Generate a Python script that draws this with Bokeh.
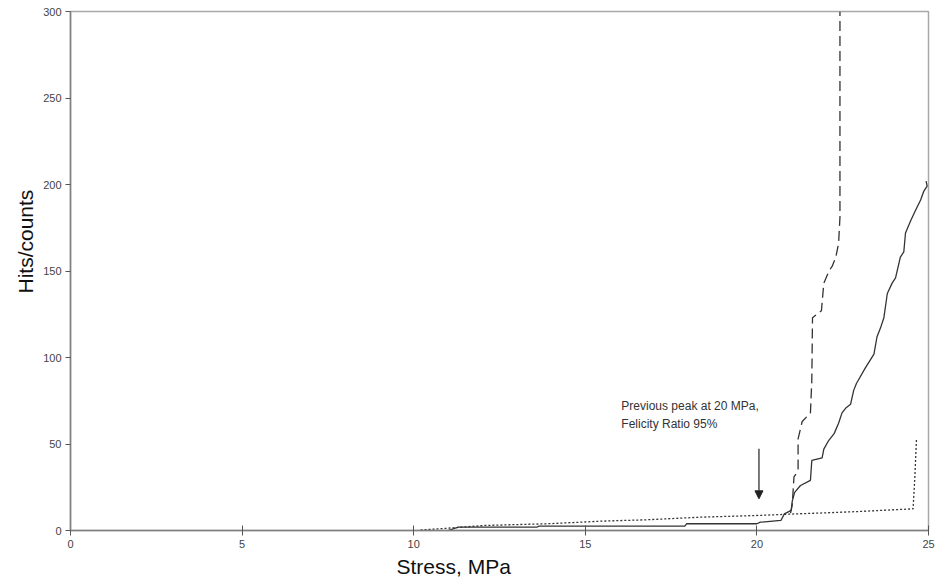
from bokeh.plotting import figure
from bokeh.models import Range1d, Label, Arrow, NormalHead, Title
from bokeh.embed import file_html
from bokeh.resources import INLINE

# Solid curve
solid_x = [11.0, 11.3, 13.6, 13.65, 17.9, 17.95, 20.0, 20.1, 20.7, 20.8, 21.0, 21.03, 21.1, 21.27,
           21.56, 21.6, 21.9, 21.95, 22.09, 22.25, 22.38, 22.48, 22.6, 22.73, 22.82, 22.9, 23.16,
           23.41, 23.5, 23.6, 23.7, 23.8, 23.94, 24.04, 24.18, 24.28, 24.33, 24.48, 24.62, 24.77,
           24.86, 24.96, 24.93]
solid_y = [0, 2, 2, 2.5, 2.5, 3.9, 3.9, 4.8, 5.8, 9.6, 11.6, 17, 22, 26,
           29, 40.5, 42, 47, 52, 56, 62, 68, 71, 73, 81, 85, 94,
           102, 112, 117, 123, 137, 143, 146, 158, 161, 172, 179, 185, 191,
           196, 199, 202]

# Dashed curve
dash_x = [20.98, 21.03, 21.08, 21.15, 21.2, 21.2, 21.32, 21.56, 21.6, 21.62, 21.88, 21.95, 22.1,
          22.2, 22.3, 22.38, 22.42, 22.42]
dash_y = [10, 15, 31, 33, 35, 53, 63, 68, 87, 123, 127, 143, 150,
          153, 158, 166, 181, 300]

# Dotted curve
dot_x = [10.2, 10.97, 12.04, 13.9, 14.86, 15.45, 16.8, 18.36, 20.05, 21.0, 22.0, 23.0, 24.0, 24.55, 24.6, 24.65]
dot_y = [0.3, 1.3, 2.9, 3.9, 4.8, 5.4, 6.2, 7.7, 8.7, 9.5, 10.2, 11.0, 12.0, 12.5, 30, 53]

x_ticks = [0, 5, 10, 15, 20, 25]
y_ticks = [0, 50, 100, 150, 200, 250, 300]

x_title = "Stress, MPa"
y_title = "Hits/counts"
note_lines = ["Previous peak at 20 MPa,", "Felicity  Ratio 95%"]
arrow_x = 20.06
arrow_top = 47.2
arrow_tip = 18.3

p = figure(width=935, height=584, output_backend="svg", toolbar_location=None,
           x_range=Range1d(0, 25), y_range=Range1d(0, 300),
           min_border_left=70, min_border_right=7, min_border_top=11, min_border_bottom=54)
p.background_fill_color = "white"
p.border_fill_color = "white"
p.outline_line_color = "#a8a8a8"
p.outline_line_width = 1.5
p.grid.visible = False

curve_color = "#333333"
p.line(solid_x, solid_y, line_color=curve_color, line_width=1.3)
p.line(dash_x, dash_y, line_color=curve_color, line_width=1.3, line_dash="10 5")
p.line(dot_x, dot_y, line_color=curve_color, line_width=1.3, line_dash="2 2")

axis_color = "#808080"
for ax in (p.xaxis[0], p.yaxis[0]):
    ax.axis_line_color = axis_color
    ax.axis_line_width = 1.5
    ax.major_tick_line_color = "#555555"
    ax.minor_tick_line_color = "#555555"
    ax.major_label_text_font = "Liberation Sans"
    ax.major_label_text_font_size = "11px"
    ax.major_label_text_color = "#444444"

p.xaxis.ticker = x_ticks
p.xaxis[0].ticker.num_minor_ticks = 5
p.xaxis.major_tick_in = 5
p.xaxis.major_tick_out = 5
p.xaxis.minor_tick_in = 2
p.xaxis.minor_tick_out = 0
p.xaxis.major_label_standoff = 4

p.yaxis.ticker = y_ticks
p.yaxis[0].ticker.num_minor_ticks = 5
p.yaxis.major_tick_in = 0
p.yaxis.major_tick_out = 5
p.yaxis.minor_tick_in = 3
p.yaxis.minor_tick_out = 0
p.yaxis.major_label_standoff = 4

# Axis titles as offset titles
p.add_layout(Title(text=x_title, text_font="Liberation Sans", text_font_size="21px",
                   text_font_style="normal", text_color="#111111", align="left",
                   offset=326, standoff=4), "below")
p.add_layout(Title(text=y_title, text_font="Liberation Sans", text_font_size="21px",
                   text_font_style="normal", text_color="#111111", align="left",
                   offset=237, standoff=8), "left")

# Annotation
p.add_layout(Label(x=16.05, y=71.7, text=note_lines[0], text_font="Liberation Sans",
                   text_font_size="12px", text_color="#333333", text_baseline="middle"))
p.add_layout(Label(x=16.05, y=61.3, text=note_lines[1], text_font="Liberation Sans",
                   text_font_size="12px", text_color="#333333", text_baseline="middle"))
p.add_layout(Arrow(x_start=arrow_x, y_start=arrow_top, x_end=arrow_x, y_end=arrow_tip,
                   line_color="#222222", line_width=1.2,
                   end=NormalHead(size=8, fill_color="#222222", line_color="#222222")))

open("out.html", "w").write(file_html(p, INLINE))
